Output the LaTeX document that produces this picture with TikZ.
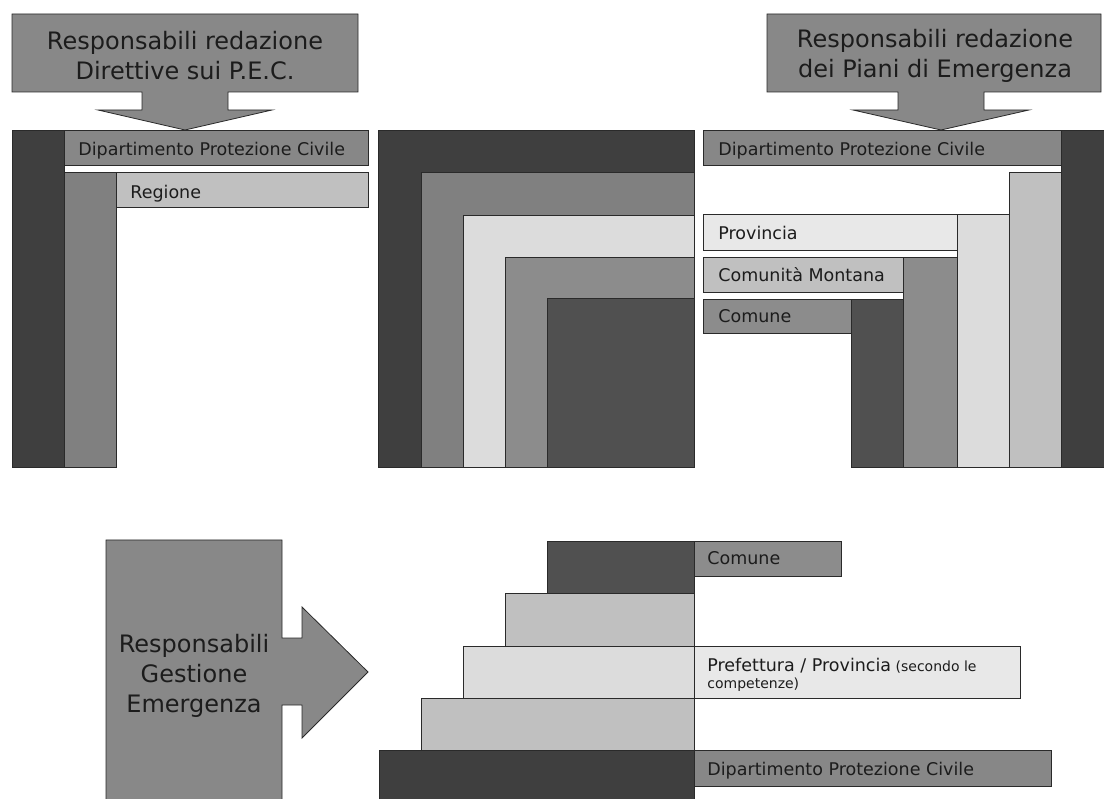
\documentclass[tikz,border=0pt]{standalone}
\usepackage{fontspec}
\setmainfont{DejaVu Sans}
\definecolor{edge}{HTML}{2A2A2A}
\definecolor{ink}{HTML}{1C1C1C}
\definecolor{arrowgray}{HTML}{888888}
\definecolor{dpcgray}{HTML}{878787}
\definecolor{darkA}{HTML}{3F3F3F}
\definecolor{darkB}{HTML}{505050}
\definecolor{midA}{HTML}{808080}
\definecolor{midB}{HTML}{8C8C8C}
\definecolor{lightA}{HTML}{C0C0C0}
\definecolor{paleA}{HTML}{DCDCDC}
\definecolor{paleB}{HTML}{E8E8E8}
\begin{document}
\begin{tikzpicture}[x=1pt, y=-1pt, line width=0.8pt,
                    block/.style={draw=edge, line join=miter},
                    bigarrow/.style={draw=edge, fill=arrowgray, line join=miter},
                    headtext/.style={align=center, inner sep=0pt, text=ink,
                                     font=\fontsize{24}{30}\selectfont},
                    barlabel/.style={anchor=base west, inner sep=0pt, text=ink,
                                     font=\fontsize{17.5}{21}\selectfont}]

  \useasboundingbox (0,0) rectangle (1104,799);

  \draw[bigarrow] (12,14) -- (358,14) -- (358,92) -- (228,92) -- (228,110) -- (272,110)
    -- (185,130) -- (98,110) -- (142,110) -- (142,92) -- (12,92) -- cycle;
  \draw[bigarrow] (767,14) -- (1101,14) -- (1101,92) -- (984,92) -- (984,110) -- (1029,110)
    -- (941,130) -- (853,110) -- (898,110) -- (898,92) -- (767,92) -- cycle;
  \draw[bigarrow] (106,540) -- (282,540) -- (282,638) -- (302,638) -- (302,607) -- (368,672)
    -- (302,738) -- (302,705) -- (282,705) -- (282,810) -- (106,810) -- cycle;

  \node[headtext] (pecHead) at (185,56) {Responsabili redazione\\Direttive sui P.E.C.};
  \node[headtext] (pianiHead) at (935,56) {Responsabili redazione\\dei Piani di Emergenza};
  \node[headtext] (gestHead) at (194,676) {Responsabili\\Gestione\\Emergenza};

  \draw[block, fill=darkA] (12,130) rectangle (64,467);
  \draw[block, fill=dpcgray] (64,130) rectangle (368,165);
  \draw[block, fill=midA] (64,172) rectangle (116,467);
  \draw[block, fill=lightA] (116,172) rectangle (368,207);
  \node[barlabel] (dpcLeft) at (78,155.5) {Dipartimento Protezione Civile};
  \node[barlabel] (regione) at (130,198.5) {Regione};

  \draw[block, fill=darkA] (378,130) rectangle (694,467);
  \draw[block, fill=midA] (421,172) rectangle (694,467);
  \draw[block, fill=paleA] (463,215) rectangle (694,467);
  \draw[block, fill=midB] (505,257) rectangle (694,467);
  \draw[block, fill=darkB] (547,298) rectangle (694,467);

  \draw[block, fill=darkA] (1061,130) rectangle (1110,467);
  \draw[block, fill=dpcgray] (703,130) rectangle (1061,165);
  \draw[block, fill=lightA] (1009,172) rectangle (1061,467);
  \draw[block, fill=paleA] (957,214) rectangle (1009,467);
  \draw[block, fill=paleB] (703,214) rectangle (957,250);
  \draw[block, fill=midB] (903,257) rectangle (957,467);
  \draw[block, fill=lightA] (703,257) rectangle (903,292);
  \draw[block, fill=darkB] (851,299) rectangle (903,467);
  \draw[block, fill=midB] (703,299) rectangle (851,333);
  \node[barlabel] (dpcRight) at (718,155.5) {Dipartimento Protezione Civile};
  \node[barlabel] (provincia) at (718,239.5) {Provincia};
  \node[barlabel] (montana) at (718,281.5) {Comunità Montana};
  \node[barlabel] (comuneTop) at (718,323) {Comune};

  \draw[block, fill=darkA] (379,750) rectangle (694,810);
  \draw[block, fill=lightA] (421,698) rectangle (694,750);
  \draw[block, fill=paleA] (463,646) rectangle (694,698);
  \draw[block, fill=lightA] (505,593) rectangle (694,646);
  \draw[block, fill=darkB] (547,541) rectangle (694,593);
  \draw[block, fill=midB] (694,541) rectangle (841,576);
  \draw[block, fill=paleB] (694,646) rectangle (1020,698);
  \draw[block, fill=dpcgray] (694,750) rectangle (1051,786);
  \node[barlabel] (comuneLow) at (707,565) {Comune};
  \node[barlabel, anchor=north west, align=left, font=\fontsize{14}{17.5}\selectfont]
    (prefettura) at (707,657.5) {{\fontsize{17.5}{17.5}\selectfont Prefettura / Provincia}
    (secondo le\\competenze)};
  \node[barlabel] (dpcLow) at (707,775) {Dipartimento Protezione Civile};

\end{tikzpicture}
\end{document}
